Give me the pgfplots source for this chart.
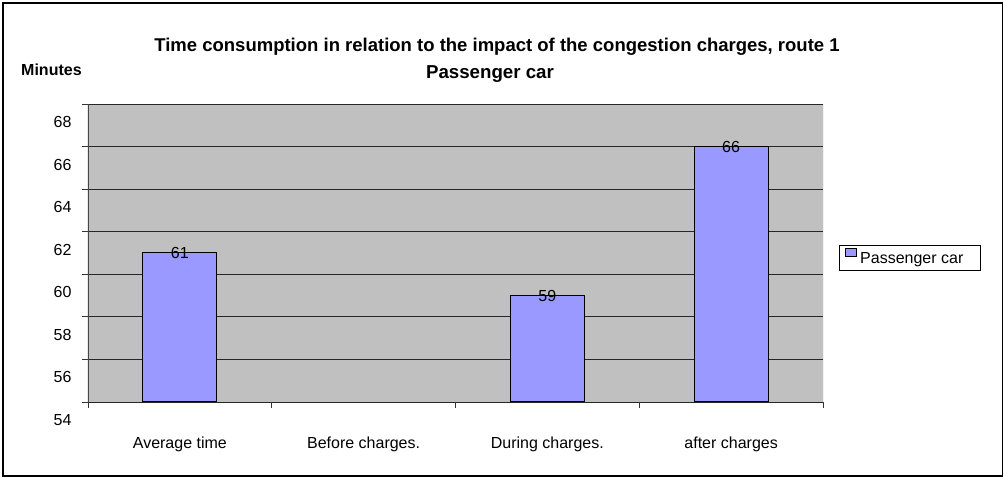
\documentclass[border=0pt]{standalone}
\usepackage{pgfplots}
\pgfplotsset{compat=1.18}
\usepackage{fontspec}
\setmainfont{Liberation Sans}
\definecolor{bgray}{RGB}{192,192,192}
\definecolor{barblue}{RGB}{153,153,255}
\begin{document}
\fontsize{16}{19}\selectfont
\begin{tikzpicture}[x=1pt,y=1pt]
\path[use as bounding box] (0,0) rectangle (1004,478);
\draw[black, line width=1.5pt] (3,2) rectangle (1002.5,475);
\node[font=\fontsize{18.5}{22}\selectfont\bfseries, anchor=base] at (497,478-52) {Time consumption in relation to the impact of the congestion charges, route 1};
\node[font=\fontsize{18.7}{22}\selectfont\bfseries, anchor=base] at (490,478-79) {Passenger car};
\node[font=\fontsize{16}{19}\selectfont\bfseries, anchor=base west, inner sep=0pt] at (21,478-76) {Minutes};
\begin{axis}[
  at={(88pt,76pt)}, anchor=south west,
  scale only axis, width=735pt, height=298pt,
  xmin=-0.5, xmax=3.5, ymin=54, ymax=68,
  ybar, bar width=74pt,
  axis background/.style={fill=bgray},
  axis line style={draw=none},
  ytick={54,56,...,68},
  ymajorgrids, grid style={black!85, line width=0.9pt},
  ytick pos=left, xtick pos=bottom,
  tick align=outside, major tick length=6pt,
  tick style={black!80, line width=0.9pt},
  xtick={-0.5,0.5,1.5,2.5,3.5}, xticklabels={},
  extra x ticks={0,1,2,3},
  extra x tick labels={Average time, Before charges., During charges., after charges},
  extra x tick style={major tick length=0pt, xmajorgrids=false, xticklabel style={yshift=-29pt}},
  yticklabel style={yshift=-18pt, xshift=-5pt},
  /pgf/number format/assume math mode=true,
  ticklabel style={font=\fontsize{16}{19}\selectfont},
  nodes near coords,
  every node near coord/.append style={anchor=center, font=\fontsize{16}{19}\selectfont, inner sep=0pt},
  legend style={at={(1.0218,0.485)}, anchor=west, draw=black, line width=0.8pt, fill=white,
    font=\fontsize{16}{19}\selectfont, inner xsep=6pt, inner ysep=3pt, nodes={inner sep=1pt}},
]
\addplot[fill=barblue, draw=black, line width=1pt,
  legend image code/.code={\draw[fill=barblue, draw=black, line width=0.8pt] (0pt,2.5pt) rectangle (11pt,11pt);}]
  coordinates {(0,61) (2,59) (3,66)};
\addlegendentry{\hspace*{2pt}Passenger car\hspace*{10pt}}
\draw[gray!55!black, line width=1.2pt] (rel axis cs:0,0) -- (rel axis cs:0,1);
\draw[gray!80, line width=1pt] (rel axis cs:1,0) -- (rel axis cs:1,1);
\end{axis}
\end{tikzpicture}
\end{document}
